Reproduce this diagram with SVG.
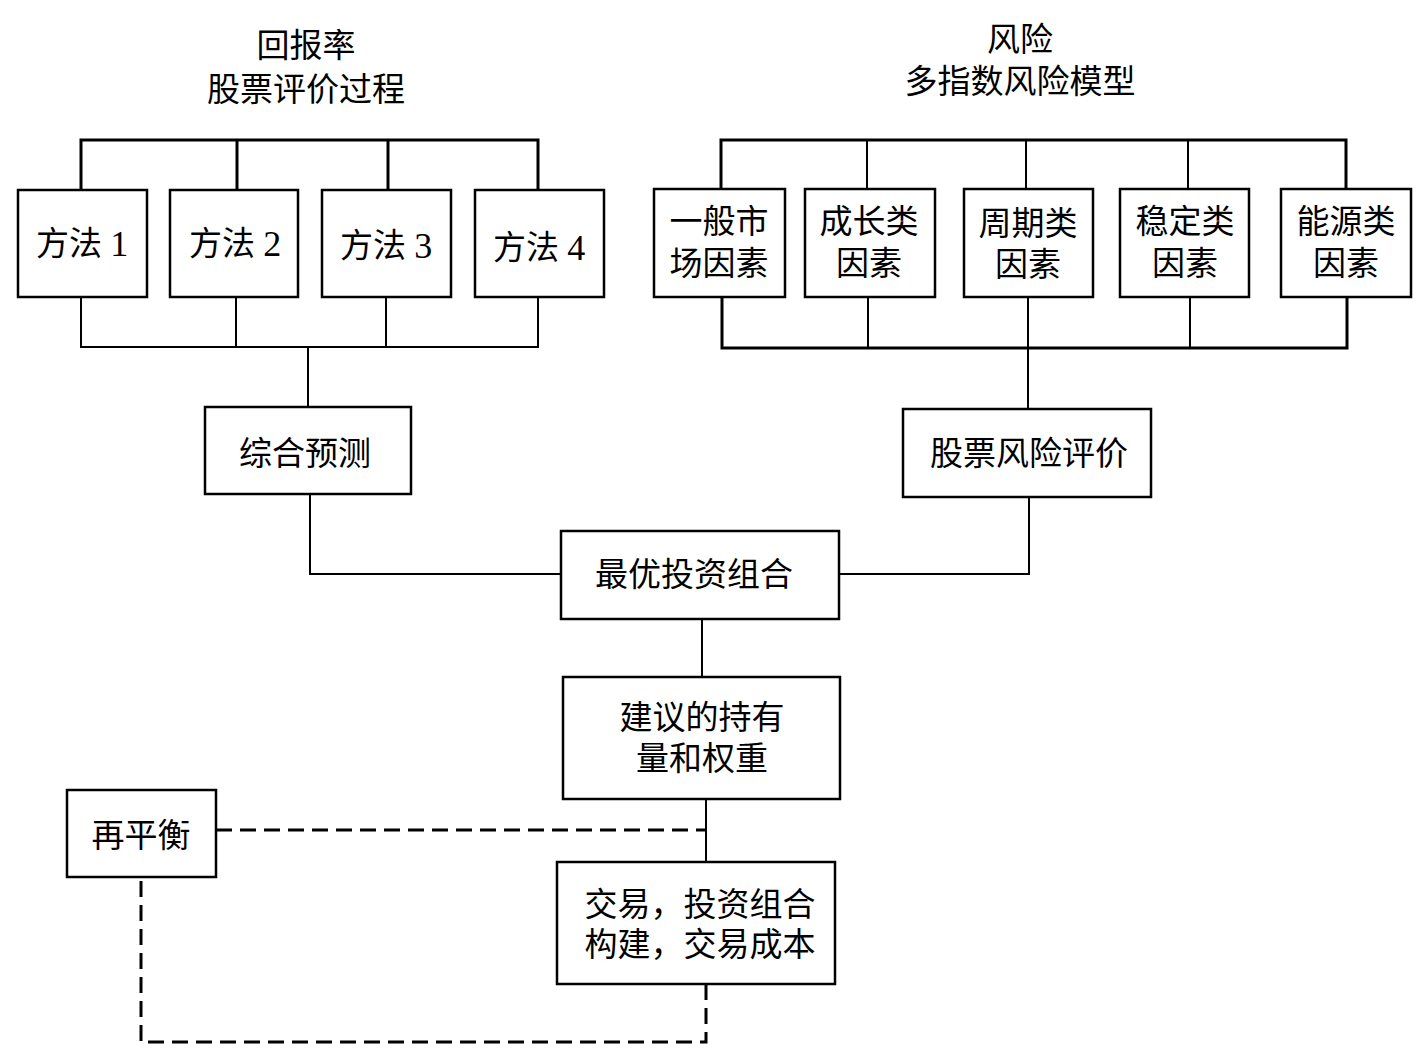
<svg xmlns="http://www.w3.org/2000/svg" width="1418" height="1049" viewBox="0 0 1418 1049">
<style>
.box{fill:#fff;stroke:#000;stroke-width:2.5}
.t{font-family:"Liberation Serif","Noto Sans CJK SC",serif;font-size:33px;fill:#000;text-anchor:middle;dominant-baseline:central}
.n{font-size:36px}
.ln{fill:none;stroke:#000;stroke-width:2}
.th{fill:none;stroke:#000;stroke-width:3}
.ds{fill:none;stroke:#000;stroke-width:3;stroke-dasharray:16 8}
</style>
<rect width="1418" height="1049" fill="#fff"/>
<g id="titles">
<text class="t" x="306" y="46">回报率</text>
<text class="t" x="306" y="90">股票评价过程</text>
<text class="t" x="1020" y="40">风险</text>
<text class="t" x="1020" y="82">多指数风险模型</text>
</g>
<g id="connectors">
<path class="th" d="M81,190 V140 H538 V190 M237,140 V190 M388,140 V190"/>
<path class="ln" d="M81,297 V347 H538 V297 M236,297 V347 M386,297 V347 M308,347 V407"/>
<path class="th" d="M721,190 V140 H1346 V190"/>
<path class="ln" d="M867,140 V190 M1026,140 V190 M1188,140 V190"/>
<path class="th" d="M722,297 V348 H1347 V297"/>
<path class="ln" d="M868,297 V348 M1028,297 V409 M1190,297 V348"/>
<path class="ln" d="M310,494 V574 H561 M1029,497 V574 H839"/>
<path class="ln" d="M702,619 V677 M706,799 V862"/>
<path class="ds" d="M216,830 H706"/>
<path class="ds" d="M706,984 V1042 H141 V877"/>
</g>
<g id="m1"><rect class="box" x="18" y="190" width="129" height="107"/><text class="t" x="82" y="244">方法 <tspan class="n">1</tspan></text></g>
<g id="m2"><rect class="box" x="170" y="190" width="128" height="107"/><text class="t" x="235" y="244">方法 <tspan class="n">2</tspan></text></g>
<g id="m3"><rect class="box" x="322" y="190" width="129" height="107"/><text class="t" x="386" y="246">方法 <tspan class="n">3</tspan></text></g>
<g id="m4"><rect class="box" x="475" y="190" width="129" height="107"/><text class="t" x="539" y="248">方法 <tspan class="n">4</tspan></text></g>
<g id="f1"><rect class="box" x="654" y="189" width="131" height="108"/><text class="t" x="719" y="222">一般市</text><text class="t" x="719" y="264">场因素</text></g>
<g id="f2"><rect class="box" x="805" y="189" width="130" height="108"/><text class="t" x="869" y="222">成长类</text><text class="t" x="869" y="264">因素</text></g>
<g id="f3"><rect class="box" x="964" y="189" width="129" height="108"/><text class="t" x="1028" y="224">周期类</text><text class="t" x="1028" y="265">因素</text></g>
<g id="f4"><rect class="box" x="1120" y="189" width="129" height="108"/><text class="t" x="1185" y="222">稳定类</text><text class="t" x="1185" y="264">因素</text></g>
<g id="f5"><rect class="box" x="1281" y="189" width="130" height="108"/><text class="t" x="1346" y="222">能源类</text><text class="t" x="1346" y="264">因素</text></g>
<g id="zhyc"><rect class="box" x="205" y="407" width="206" height="87"/><text class="t" x="305" y="454">综合预测</text></g>
<g id="gpfx"><rect class="box" x="903" y="409" width="248" height="88"/><text class="t" x="1029" y="454">股票风险评价</text></g>
<g id="zytz"><rect class="box" x="561" y="531" width="278" height="88"/><text class="t" x="694" y="575">最优投资组合</text></g>
<g id="jy"><rect class="box" x="563" y="677" width="277" height="122"/><text class="t" x="702" y="718">建议的持有</text><text class="t" x="702" y="759">量和权重</text></g>
<g id="zph"><rect class="box" x="67" y="790" width="149" height="87"/><text class="t" x="141" y="836">再平衡</text></g>
<g id="jyzh"><rect class="box" x="557" y="862" width="278" height="122"/><text class="t" x="700" y="905">交易，投资组合</text><text class="t" x="700" y="945">构建，交易成本</text></g>
</svg>
